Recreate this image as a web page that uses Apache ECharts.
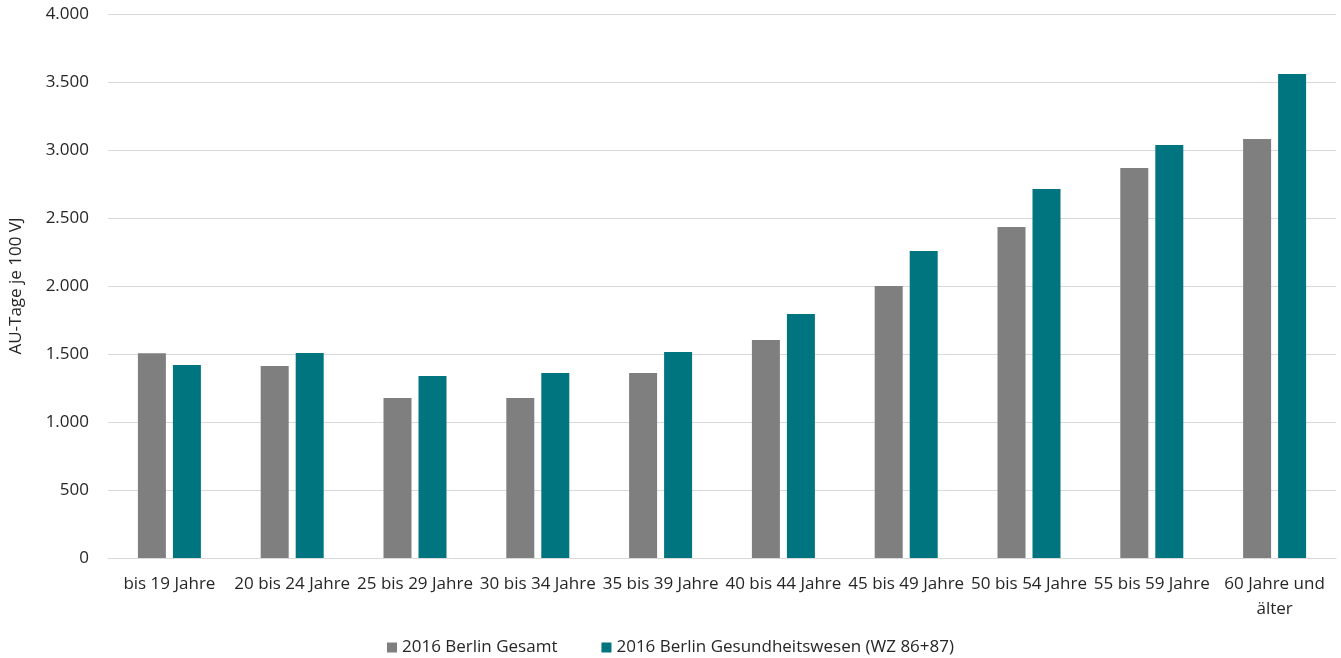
<!DOCTYPE html>
<html><head><meta charset="utf-8">
<script src="https://cdn.jsdelivr.net/npm/echarts@6/dist/echarts.min.js"></script>
<style>html,body{margin:0;padding:0;background:#fff}#c{width:1341px;height:658px}</style>
</head><body><div id="c"></div>
<script>
const categories = ['bis 19 Jahre','20 bis 24 Jahre','25 bis 29 Jahre','30 bis 34 Jahre','35 bis 39 Jahre','40 bis 44 Jahre','45 bis 49 Jahre','50 bis 54 Jahre','55 bis 59 Jahre','60 Jahre und\nälter'];
const seriesNames = ['2016 Berlin Gesamt','2016 Berlin Gesundheitswesen (WZ 86+87)'];
const gesamt = [1505, 1412, 1176, 1176, 1360, 1603, 2000, 2434, 2868, 3081];
const gesundheit = [1419, 1507, 1338, 1360, 1515, 1794, 2257, 2713, 3037, 3559];
const yTicks = {min: 0, max: 4000, interval: 500};
const yName = 'AU-Tage je 100 VJ';

const fmt = v => String(v).replace(/\B(?=(\d{3})+(?!\d))/g, '.');
const font = 'Open Sans';
const fs = 17;
const chart = echarts.init(document.getElementById('c'));
chart.setOption({
  animation: false,
  textStyle: {fontFamily: font},
  grid: {left: 108, right: 5, top: 14, bottom: 100, containLabel: false, outerBoundsMode: 'none'},
  legend: {
    top: 634, left: 'center', itemWidth: 10, itemHeight: 10, itemGap: 44,
    icon: 'rect',
    textStyle: {fontFamily: font, fontSize: fs, color: '#262626'},
    data: seriesNames
  },
  xAxis: {
    type: 'category', data: categories,
    axisLine: {lineStyle: {color: '#d9d9d9'}},
    axisTick: {show: false},
    axisLabel: {interval: 0, color: '#262626', fontSize: fs, margin: 14, lineHeight: 25, fontFamily: font}
  },
  yAxis: {
    type: 'value', min: yTicks.min, max: yTicks.max, interval: yTicks.interval,
    name: yName, nameLocation: 'middle', nameGap: 83, nameRotate: 90,
    nameTextStyle: {color: '#262626', fontSize: fs, fontFamily: font},
    axisLine: {show: false}, axisTick: {show: false},
    axisLabel: {color: '#262626', fontSize: fs, margin: 19, formatter: fmt, fontFamily: font},
    splitLine: {lineStyle: {color: '#d9d9d9', width: 1}}
  },
  series: [
    {name: seriesNames[0], type: 'bar', data: gesamt, barWidth: 28, barGap: '25%',
     itemStyle: {color: '#7f7f7f'}},
    {name: seriesNames[1], type: 'bar', data: gesundheit, barWidth: 28,
     itemStyle: {color: '#00747f'}}
  ]
});
</script></body></html>
